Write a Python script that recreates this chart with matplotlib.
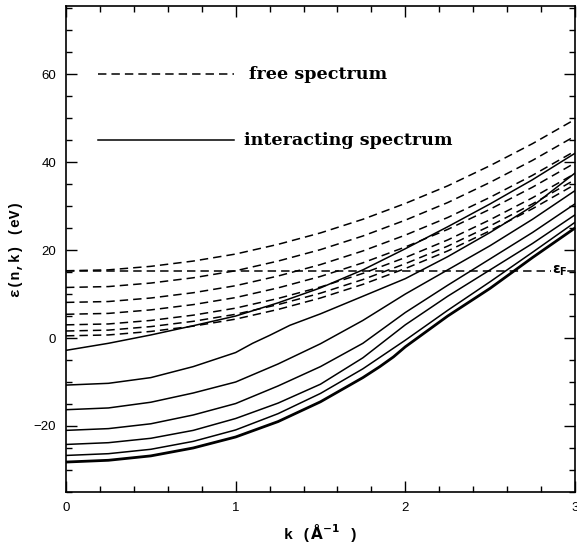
import matplotlib
matplotlib.use("Agg")
import matplotlib.pyplot as plt
from matplotlib.ticker import MultipleLocator

# k grid (1/Angstrom)
k = [0, 0.25, 0.5, 0.75, 1.0, 1.25, 1.5, 1.75, 2.0, 2.25, 2.5, 2.75, 3.0]

# free spectrum (dashed), eV
free_1 = [15.3, 15.5, 16.3, 17.5, 19.1, 21.3, 23.9, 27.0, 30.6, 34.6, 39.2, 44.2, 49.7]
free_2 = [11.5, 11.7, 12.5, 13.7, 15.3, 17.5, 20.1, 23.2, 26.8, 30.8, 35.4, 40.4, 45.9]
free_3 = [8.1, 8.3, 9.1, 10.3, 11.9, 14.1, 16.7, 19.8, 23.4, 27.4, 32.0, 37.0, 42.5]
free_4 = [5.4, 5.6, 6.4, 7.6, 9.2, 11.4, 14.0, 17.1, 20.7, 24.7, 29.3, 34.3, 39.8]
free_5 = [3.0, 3.2, 4.0, 5.2, 6.8, 9.0, 11.6, 14.7, 18.3, 22.3, 26.9, 31.9, 37.4]
free_6 = [1.6, 1.8, 2.6, 3.8, 5.4, 7.6, 10.2, 13.3, 16.9, 20.9, 25.5, 30.5, 36.0]
free_7 = [0.5, 0.7, 1.5, 2.7, 4.3, 6.5, 9.1, 12.2, 15.8, 19.8, 24.4, 29.4, 34.9]

# interacting spectrum (solid), eV
int_1 = [-2.8, -1.2, 0.7, 2.8, 5.0, 8.0, 11.4, 15.5, 20.3, 25.3, 30.5, 36.0, 42.0]
k_2 = [0, 0.25, 0.5, 0.75, 1.0, 1.1, 1.2, 1.32, 1.5, 1.75, 2.0, 2.25, 2.5, 2.75, 3.0]
int_2 = [-10.7, -10.3, -9.0, -6.5, -3.3, -1.2, 0.6, 2.9, 5.5, 9.5, 13.5, 18.5, 24.0, 30.0, 37.5]
int_3 = [-16.3, -15.9, -14.6, -12.5, -10.0, -5.9, -1.3, 4.0, 10.0, 15.5, 21.0, 27.0, 33.5]
int_4 = [-21.0, -20.6, -19.5, -17.5, -14.9, -10.9, -6.5, -1.2, 5.8, 12.0, 18.0, 24.0, 30.5]
int_5 = [-24.2, -23.8, -22.8, -21.0, -18.3, -14.8, -10.5, -4.5, 3.0, 9.5, 15.5, 21.5, 28.0]
int_6 = [-26.7, -26.3, -25.3, -23.5, -20.9, -17.2, -12.6, -7.0, -0.5, 6.3, 12.8, 19.5, 26.3]
k_7 = [0, 0.25, 0.5, 0.75, 1.0, 1.25, 1.5, 1.75, 1.85, 1.93, 2.0, 2.25, 2.5, 2.75, 3.0]
int_7 = [-28.2, -27.8, -26.8, -25.0, -22.5, -19.0, -14.5, -9.0, -6.5, -4.3, -2.0, 5.0, 11.3, 18.3, 25.0]

e_fermi = 15.3

fig = plt.figure(figsize=(5.77, 5.46), dpi=100)
ax = fig.add_axes([0.1144, 0.099, 0.882, 0.890])

dash = dict(color='k', lw=1.1, ls=(0, (5.5, 3.3)))
solid = dict(color='k', lw=1.1)

for f in [free_1, free_2, free_3, free_4, free_5, free_6, free_7]:
    ax.plot(k, f, **dash)

ax.plot(k, int_1, **solid)
ax.plot(k_2, int_2, **solid)
ax.plot(k, int_3, **solid)
ax.plot(k, int_4, **solid)
ax.plot(k, int_5, **solid)
ax.plot(k, int_6, **solid)
ax.plot(k_7, int_7, color='k', lw=2.0)

# Fermi level
ax.plot([0, 2.86], [e_fermi, e_fermi], **dash)
ax.plot([2.96, 3.0], [e_fermi, e_fermi], color='k', lw=1.1)
ax.text(2.91, e_fermi, r'$\mathbf{\epsilon_F}$', ha='center', va='center', fontsize=10)

# legend drawn in data space
ax.plot([0.19, 0.99], [60, 60], **dash)
ax.plot([0.19, 0.99], [45, 45], **solid)
ax.text(1.08, 60, 'free spectrum', family='DejaVu Serif', weight='bold', fontsize=12.6, va='center')
ax.text(1.05, 45, 'interacting spectrum', family='DejaVu Serif', weight='bold', fontsize=12.6, va='center')

ax.set_xlim(0, 3)
ax.set_ylim(-35, 75.5)
ax.xaxis.set_major_locator(MultipleLocator(1))
ax.xaxis.set_minor_locator(MultipleLocator(0.2))
ax.yaxis.set_major_locator(MultipleLocator(20))
ax.yaxis.set_minor_locator(MultipleLocator(5))
ax.tick_params(which='both', direction='in', top=True, right=True, width=1.0)
ax.tick_params(which='major', length=8, labelsize=9.5, pad=7)
ax.tick_params(which='minor', length=4.5)
for lab in ax.get_xticklabels() + ax.get_yticklabels():
    lab.set_family('Liberation Sans')
for s in ax.spines.values():
    s.set_linewidth(1.2)

ax.set_xlabel(r'k ($\mathbf{\AA^{-1}}$ )', family='Liberation Mono', weight='bold', fontsize=11, labelpad=6)
ax.set_ylabel('ε(n,k) (eV)', family='Liberation Mono', weight='bold', fontsize=10.5, labelpad=8)

fig.savefig('out.png', dpi=100)
